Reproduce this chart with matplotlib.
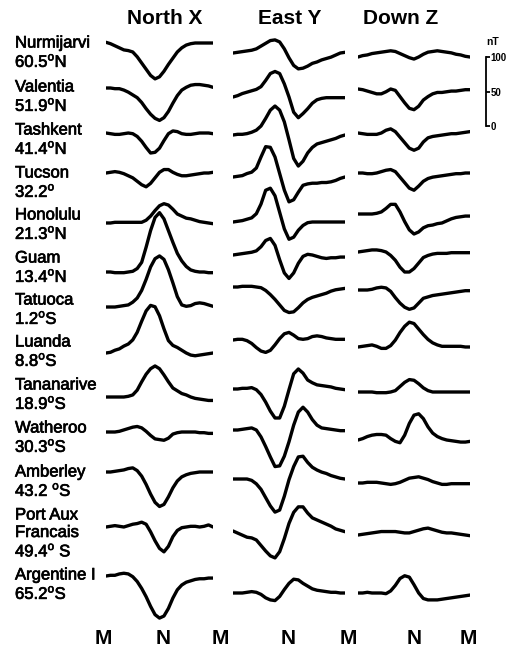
import numpy as np
import matplotlib.pyplot as plt
import matplotlib.patheffects as pe

plt.rcParams['font.family'] = ['Liberation Sans', 'DejaVu Sans']
plt.rcParams['mathtext.fontset'] = 'custom'
plt.rcParams['mathtext.rm'] = 'Liberation Sans'

# local time in hours, midnight to midnight
hours = np.arange(25)

stations = ["Nurmijarvi", "Valentia", "Tashkent", "Tucson", "Honolulu", "Guam",
            "Tatuoca", "Luanda", "Tananarive", "Watheroo", "Amberley",
            "Port Aux\nFrancais", "Argentine I"]
latitudes = ["60.5°N", "51.9°N", "41.4°N", "32.2°", "21.3°N", "13.4°N", "1.2°S",
             "8.8°S", "18.9°S", "30.3°S", "43.2 °S", "49.4° S", "65.2°S"]
components = ["North X", "East Y", "Down Z"]
time_labels = ["M", "N", "M", "N", "M", "N", "M"]
scale_ticks = [0, 50, 100]

# hourly variation, nT
north_x = [
    [1, -1, -4, -7, -10, -11, -13, -20, -29, -38, -47, -52, -49, -41, -31, -22, -13, -7, -3, -1, 0, 0, 0, 0, 0],
    [0, 0, -1, -1, -3, -6, -10, -14, -21, -30, -38, -44, -47, -43, -34, -22, -11, -3, 1, 4, 5, 5, 4, 3, 1],
    [0, -1, -2, -2, -1, 0, -1, -5, -12, -21, -29, -28, -22, -11, -1, 3, 2, -1, -2, -2, -1, 0, 0, 0, -1],
    [0, 1, 2, 1, -1, -4, -7, -12, -17, -20, -15, -7, 1, 5, 5, 1, -2, -4, -4, -3, -2, -1, 0, 0, 1],
    [0, 0, 1, 1, 1, 1, 1, 1, 1, 4, 10, 18, 25, 28, 26, 20, 13, 10, 7, 6, 4, 2, 1, 0, -1],
    [0, 0, -1, -1, -1, 0, 1, 5, 14, 36, 60, 79, 86, 77, 60, 43, 27, 16, 8, 3, 1, 0, 0, -1, -1],
    [0, 0, 0, 1, 2, 3, 7, 13, 24, 40, 58, 70, 74, 69, 54, 35, 15, 3, 1, 2, 5, 6, 5, 3, 1],
    [0, 1, 4, 6, 10, 13, 19, 30, 46, 61, 69, 67, 54, 35, 18, 11, 8, 4, 0, -3, -4, -3, -2, -1, 0],
    [0, 0, 0, 0, 0, 1, 3, 10, 22, 33, 41, 45, 41, 32, 22, 13, 9, 5, 3, 0, -2, -3, -4, -5, -5],
    [0, 0, 0, 1, 3, 5, 7, 8, 6, 1, -5, -10, -11, -12, -9, -3, -1, 0, 0, 0, 0, -1, -1, -2, -2],
    [0, 0, 1, 2, 3, 5, 6, 2, -6, -18, -32, -44, -50, -47, -36, -23, -13, -7, -4, -2, -1, 0, 0, 0, 0],
    [0, 1, 2, 1, 0, 2, 4, 5, 7, 4, -7, -20, -31, -36, -28, -14, -5, -1, 0, 1, 1, 0, 1, 3, 0],
    [0, 1, 1, 3, 4, 3, -1, -8, -18, -30, -44, -56, -61, -58, -47, -32, -20, -13, -9, -7, -5, -4, -4, -3, -3],
]
east_y = [
    [0, 1, 2, 3, 4, 6, 10, 14, 18, 19, 16, 6, -7, -18, -23, -22, -19, -15, -13, -10, -8, -6, -3, 0, 1],
    [0, 2, 5, 7, 9, 11, 15, 24, 34, 37, 34, 19, 0, -22, -30, -24, -17, -9, -4, -2, -1, -1, -1, -1, -1],
    [0, 1, 1, 2, 4, 7, 13, 24, 36, 42, 36, 19, -7, -34, -45, -38, -26, -18, -13, -11, -9, -7, -5, -2, 0],
    [0, 1, 2, 5, 7, 13, 29, 44, 43, 29, 5, -19, -36, -33, -22, -12, -10, -9, -9, -8, -8, -7, -5, -2, 0],
    [0, 1, 2, 4, 6, 12, 26, 46, 49, 38, 14, -10, -25, -22, -12, -5, -1, 0, 0, 0, 0, 0, 0, 0, 0],
    [0, 1, 2, 3, 4, 6, 12, 21, 24, 14, -7, -26, -34, -26, -12, -2, 1, 0, -2, -4, -5, -4, -4, -3, -3],
    [0, 0, 1, 1, 1, 0, -1, -5, -11, -18, -26, -34, -37, -36, -30, -23, -18, -15, -13, -11, -9, -6, -4, -3, -2],
    [0, 1, 1, -1, -5, -11, -16, -18, -15, -7, 2, 9, 11, 7, 2, 1, 2, 5, 6, 5, 3, 2, 1, 1, 1],
    [0, 0, 1, 1, 2, -1, -8, -19, -32, -42, -42, -25, -1, 22, 29, 23, 13, 9, 6, 5, 4, 3, 1, 0, -1],
    [0, 0, 1, 2, 3, 0, -10, -24, -39, -53, -52, -38, -17, 7, 26, 33, 26, 15, 7, 3, 2, 1, 0, -1, -1],
    [0, 0, 0, 0, -2, -7, -15, -27, -39, -48, -45, -25, -1, 18, 32, 33, 24, 17, 13, 10, 8, 5, 3, 1, 0],
    [0, -3, -6, -9, -10, -13, -21, -29, -36, -39, -30, -11, 11, 27, 35, 35, 26, 19, 16, 13, 10, 7, 3, 1, -1],
    [0, 0, 0, 1, 2, 1, -2, -7, -10, -11, -5, 5, 14, 20, 19, 14, 10, 6, 4, 3, 2, 1, 1, 0, 0],
]
down_z = [
    [0, 2, 3, 5, 6, 7, 8, 9, 8, 5, 2, -1, -3, 0, 4, 7, 8, 9, 8, 7, 6, 4, 3, 1, 0],
    [0, -1, -3, -5, -7, -7, -4, 0, -2, -11, -20, -28, -30, -25, -16, -11, -7, -5, -5, -4, -3, -3, -2, -1, -1],
    [0, -1, -2, -2, -2, 0, 4, 6, 2, -6, -14, -22, -25, -22, -13, -7, -5, -4, -3, -2, -1, -1, 0, 1, 2],
    [0, 0, -1, -1, 0, 2, 4, 5, 2, -6, -14, -22, -25, -19, -12, -8, -6, -5, -4, -3, -2, -1, -1, 0, 0],
    [0, 0, 0, 0, 1, 3, 8, 14, 14, 3, -11, -23, -29, -26, -20, -17, -16, -14, -13, -10, -7, -5, -4, -3, -3],
    [0, 1, 2, 3, 3, 2, 0, -5, -12, -22, -29, -29, -24, -16, -8, -5, -3, -2, -2, -2, -1, -1, -1, -1, -1],
    [0, 0, 0, 1, 3, 4, 3, -2, -11, -19, -25, -28, -26, -19, -12, -10, -8, -7, -6, -5, -4, -3, -2, -1, -1],
    [0, 1, 2, 3, 1, -2, -2, 2, 10, 21, 30, 36, 34, 26, 18, 11, 6, 3, 1, 1, 1, 1, 1, 0, 0],
    [0, 0, 0, 0, -1, -1, -1, 0, 2, 8, 14, 18, 17, 12, 6, 2, 0, 0, 0, 0, 0, 0, 0, 0, 0],
    [0, 2, 5, 7, 8, 8, 7, 2, -2, -4, 7, 24, 36, 38, 31, 19, 10, 5, 2, 0, -1, -2, -3, -3, -2],
    [0, 0, 1, 1, 1, 0, -1, -2, -1, 1, 4, 7, 8, 9, 7, 5, 2, 0, -2, -2, -1, -1, -1, -1, -1],
    [0, 1, 2, 3, 4, 5, 5, 5, 5, 4, 3, 3, 5, 7, 9, 10, 8, 6, 4, 3, 3, 2, 1, 0, -1],
    [0, 0, 1, 0, 0, 0, -1, 3, 11, 21, 25, 23, 12, 0, -8, -10, -10, -10, -9, -8, -7, -6, -5, -4, -3],
]

# ---- layout (pixels) ----
W, H = 512, 650
PX_PER_NT = 0.69
col_px = [(106, 213), (233, 345), (358, 470)]
row_px = [
    [43, 88, 133, 173, 223, 272, 307, 353, 397, 432, 472, 527, 576],
    [53, 97, 135, 177, 222, 255, 287, 340, 389, 430, 479, 531, 593],
    [57, 89, 133, 173, 214, 252, 290, 347, 392, 440, 483, 535, 593],
]
label_px = [43, 87, 130, 173, 215, 258, 300, 342, 385, 428, 472, 515, 575]
header_x = [165, 290, 401]
time_x = [103, 163, 220, 288, 348, 414, 468]

heavy = [pe.withStroke(linewidth=0.5, foreground='black')]

fig = plt.figure(figsize=(W / 100, H / 100), dpi=100)
fig.patch.set_facecolor('white')

for data, (x0, x1), rows, name, hx in zip([north_x, east_y, down_z], col_px, row_px,
                                          components, header_x):
    ax = fig.add_axes([x0 / W, 0, (x1 - x0) / W, 1])
    ax.set_xlim(0, 24)
    ax.set_ylim(-H / PX_PER_NT, 0)
    ax.axis('off')
    for vals, r in zip(data, rows):
        ax.plot(hours, np.array(vals) - r / PX_PER_NT, color='black', lw=2.4,
                solid_capstyle='round', solid_joinstyle='round')
    fig.text(hx / W, 1 - 18 / H, name, ha='center', va='center',
             fontsize=15, fontweight='bold')

# station labels, degree drawn as a raised "o" like the original print
for name, lat, y in zip(stations, latitudes, label_px):
    lines = name.split('\n') + [lat.replace("°", r"$^{\rm o}$")]
    for k, line in enumerate(lines):
        fig.text(15 / W, 1 - (y + k * 17.5) / H, line, ha='left', va='center',
                 fontsize=12, path_effects=heavy)

# local time labels
for lbl, x in zip(time_labels, time_x):
    fig.text(x / W, 1 - 638 / H, lbl, ha='center', va='center',
             fontsize=15, fontweight='bold')

# scale bar
sax = fig.add_axes([480 / W, 0, 6 / W, 1])
sax.set_ylim(-(H - 126) / PX_PER_NT, 126 / PX_PER_NT)
sax.patch.set_visible(False)
for s in ['left', 'top', 'bottom']:
    sax.spines[s].set_visible(False)
sax.spines['right'].set_bounds(0, 100)
sax.spines['right'].set_linewidth(1.3)
sax.yaxis.tick_right()
sax.set_xticks([])
sax.set_yticks(scale_ticks)
sax.tick_params(axis='y', direction='out', length=3, width=1.3, pad=0.5, labelsize=7)
for t in sax.get_yticklabels():
    t.set_fontweight('bold')
fig.text(493 / W, 1 - 42 / H, "nT", ha='center', va='center', fontsize=7.5,
         fontweight='bold')

fig.savefig("out.png", dpi=100, facecolor='white')
